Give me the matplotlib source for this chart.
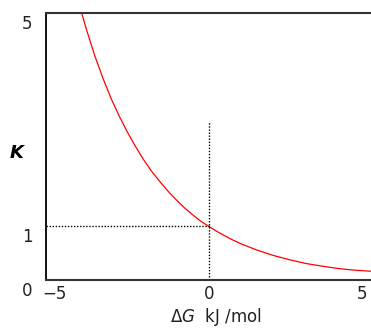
import matplotlib
matplotlib.use("Agg")
import matplotlib.pyplot as plt
import matplotlib.transforms as mtransforms

# values
delta_g = [-3.95, -3.75, -3.5, -3.25, -3.0, -2.75, -2.5, -2.25, -2.0, -1.75,
           -1.5, -1.25, -1.0, -0.75, -0.5, -0.25, 0.0, 0.25, 0.5, 0.75,
           1.0, 1.5, 2.0, 2.5, 3.0, 3.5, 4.0, 4.5, 5.0]
k_values = [5.1, 4.68, 4.2, 3.78, 3.4, 3.07, 2.77, 2.5, 2.25, 2.03,
            1.84, 1.66, 1.5, 1.35, 1.22, 1.1, 1.0, 0.905, 0.82, 0.74,
            0.67, 0.55, 0.45, 0.37, 0.30, 0.25, 0.205, 0.175, 0.155]

x_ticks = [-5, 0, 5]
x_tick_labels = ["\u22125", "0", "5"]
y_ticks = [0, 1, 5]
y_tick_labels = ["0", "1", "5"]

guide_k = 1.0
guide_top = 2.95

plt.rcParams["font.family"] = "DejaVu Sans"
plt.rcParams["mathtext.fontset"] = "dejavusans"

fig = plt.figure(figsize=(3.71, 3.29), dpi=100)
ax = fig.add_axes([46 / 371, 1 - 279.5 / 329, 325 / 371, (279.5 - 13) / 329])

ax.plot(delta_g, k_values, color="#ff0000", lw=0.9)
ax.vlines(0, 0, guide_top, colors="black", lw=1.0, linestyles=(0, (1, 1.2)))
ax.hlines(guide_k, -5, 0, colors="black", lw=1.0, linestyles=(0, (1, 1.2)))

ax.set_xlim(-5, 5)
ax.set_ylim(0, 5)
ax.set_xticks(x_ticks)
ax.set_xticklabels(x_tick_labels, fontsize=12, color="#222222")
ax.set_yticks(y_ticks)
ax.set_yticklabels(y_tick_labels, fontsize=12, color="#222222")
ax.tick_params(length=0, pad=4)

# nudge the tick labels like the reference
x_shift = [8, 1, -9]
for lab, dx in zip(ax.get_xticklabels(), x_shift):
    lab.set_transform(lab.get_transform() + mtransforms.ScaledTranslation(dx / 100, 0, fig.dpi_scale_trans))
for lab in ax.get_yticklabels():
    lab.set_transform(lab.get_transform() + mtransforms.ScaledTranslation(-8 / 100, -9 / 100, fig.dpi_scale_trans))

ax.spines["right"].set_visible(False)
ax.spines["left"].set_color("black")
ax.spines["left"].set_linewidth(1.3)
for side in ("top", "bottom"):
    ax.spines[side].set_color("#333333")
    ax.spines[side].set_linewidth(1.5)

fig.text(17 / 371, 1 - 153 / 329, "K", fontsize=13, fontweight="bold", fontstyle="italic",
         ha="center", va="center")
fig.text(216 / 371, 1 - 317 / 329, r"$\Delta G$  kJ /mol", fontsize=12,
         ha="center", va="center", color="#222222")

fig.savefig("out.png", dpi=100)
